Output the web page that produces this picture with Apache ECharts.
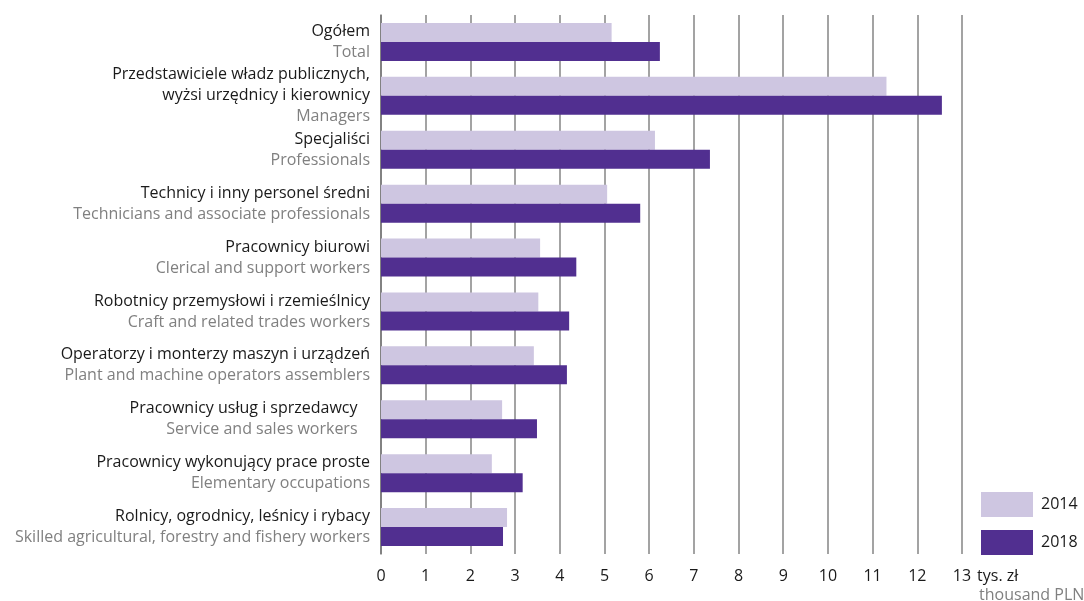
<!DOCTYPE html>
<html>
<head>
<meta charset="utf-8">
<script src="https://cdn.jsdelivr.net/npm/echarts@6/dist/echarts.min.js"></script>
<style>html,body{margin:0;padding:0;background:#fff;}#c{width:1084px;height:601px;}</style>
</head>
<body>
<div id="c"></div>
<script>
const categoriesPL = [
  ['Ogółem'],
  ['Przedstawiciele władz publicznych,', 'wyżsi urzędnicy i kierownicy'],
  ['Specjaliści'],
  ['Technicy i inny personel średni'],
  ['Pracownicy biurowi'],
  ['Robotnicy przemysłowi i rzemieślnicy'],
  ['Operatorzy i monterzy maszyn i urządzeń'],
  ['Pracownicy usług i sprzedawcy\u00a0\u00a0\u00a0'],
  ['Pracownicy wykonujący prace proste'],
  ['Rolnicy, ogrodnicy, leśnicy i rybacy']
];
const categoriesEN = [
  'Total',
  'Managers',
  'Professionals',
  'Technicians and associate professionals',
  'Clerical and support workers',
  'Craft and related trades workers',
  'Plant and machine operators assemblers',
  'Service and sales workers\u00a0\u00a0\u00a0',
  'Elementary occupations',
  'Skilled agricultural, forestry and fishery workers'
];
const seriesNames = ['2014', '2018'];
const values2014 = [5.16, 11.31, 6.13, 5.06, 3.56, 3.52, 3.42, 2.71, 2.48, 2.82];
const values2018 = [6.24, 12.55, 7.36, 5.80, 4.37, 4.21, 4.16, 3.49, 3.17, 2.73];
const xTicks = [0, 1, 2, 3, 4, 5, 6, 7, 8, 9, 10, 11, 12, 13];
const unitPL = 'tys. zł';
const unitEN = 'thousand PLN';

const FONT = 'Open Sans';
const FS = 16;
const cats = categoriesEN.map((e, i) => String(i));

const chart = echarts.init(document.getElementById('c'), null, {renderer: 'canvas'});
chart.setOption({
  animation: false,
  textStyle: {fontFamily: FONT},
  grid: {left: 381, right: 122, top: 15, bottom: 47, containLabel: false, outerBoundsMode: 'none'},
  legend: {
    orient: 'vertical', left: 981, top: 492, padding: 0,
    itemWidth: 52, itemHeight: 25, itemGap: 13,
    icon: 'rect',
    textStyle: {fontFamily: FONT, fontSize: FS, color: '#1a1a1a', padding: [0,0,0,3]},
    data: seriesNames
  },
  xAxis: {
    type: 'value', min: xTicks[0], max: xTicks[xTicks.length - 1], interval: 1,
    axisLine: {show: false}, axisTick: {show: false},
    splitLine: {show: true, lineStyle: {color: '#858585', width: 1.5}},
    axisLabel: {margin: 14, fontFamily: FONT, fontSize: FS, color: '#1a1a1a'},
    name: '{u|' + unitPL + '}\n{e|' + unitEN + '}',
    nameLocation: 'end', nameGap: 12,
    nameTextStyle: {
      align: 'left', verticalAlign: 'top', padding: [13, 0, 0, 0],
      rich: {
        u: {fontFamily: FONT, fontSize: FS, color: '#1a1a1a', lineHeight: 19},
        e: {fontFamily: FONT, fontSize: FS, color: '#808080', lineHeight: 19, padding: [0,0,0,2]}
      }
    }
  },
  yAxis: {
    type: 'category', inverse: true, data: cats,
    axisLine: {show: true, lineStyle: {color: '#777', width: 1.5}},
    axisTick: {show: false},
    axisLabel: {
      margin: 11, align: 'right',
      formatter: (v) => {
        const i = +v;
        return categoriesPL[i].map(s => '{p|' + s + '}').join('\n') + '\n{e|' + categoriesEN[i] + '}';
      },
      rich: {
        p: {fontFamily: FONT, fontSize: FS, color: '#1a1a1a', lineHeight: 21},
        e: {fontFamily: FONT, fontSize: FS, color: '#808080', lineHeight: 21}
      }
    }
  },
  series: [
    {name: seriesNames[0], type: 'bar', data: values2014, barWidth: 19, barGap: '0%',
     itemStyle: {color: '#cec6e1'}},
    {name: seriesNames[1], type: 'bar', data: values2018, barWidth: 19, barGap: '0%',
     itemStyle: {color: '#512f90'}}
  ]
});
</script>
</body>
</html>
